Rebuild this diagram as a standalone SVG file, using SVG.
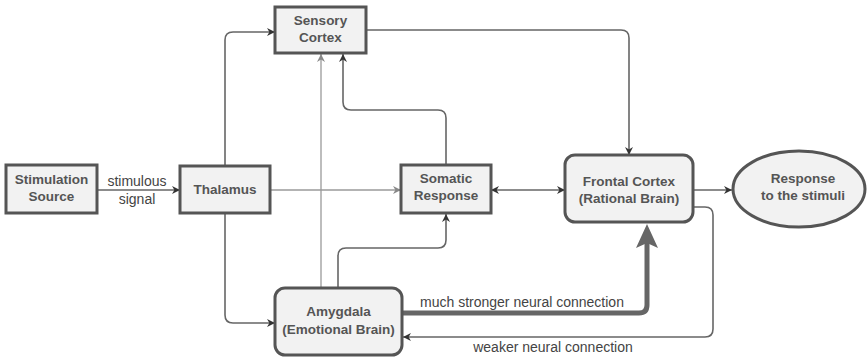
<svg xmlns="http://www.w3.org/2000/svg" width="868" height="357" viewBox="0 0 868 357">
<style>
.node{fill:#f2f2f2;stroke:#555;stroke-width:3}
.nt{font-family:"Liberation Sans",Arial,sans-serif;font-size:13.5px;font-weight:bold;fill:#555;text-anchor:middle}
.lbl{font-family:"Liberation Sans",Arial,sans-serif;font-size:14px;fill:#444;text-anchor:middle}
.c{fill:none;stroke:#666;stroke-width:1.6}
.cl{fill:none;stroke:#9a9a9a;stroke-width:1.3}
.thick{fill:none;stroke:#666;stroke-width:5}
</style>
<defs>
<marker id="a" viewBox="0 0 10 10" refX="10" refY="5" markerWidth="9" markerHeight="8" markerUnits="userSpaceOnUse" orient="auto-start-reverse">
<path d="M0,0 L10,5 L0,10 L3,5 Z" fill="#333"/>
</marker>
<marker id="al" viewBox="0 0 10 10" refX="10" refY="5" markerWidth="9" markerHeight="8" markerUnits="userSpaceOnUse" orient="auto">
<path d="M0,0 L10,5 L0,10 L3,5 Z" fill="#888"/>
</marker>
</defs>
<g id="connectors">
<path class="c" d="M97,190 H180" marker-end="url(#a)"/>
<path class="c" d="M225,166 V40 Q225,32 233,32 H275" marker-end="url(#a)"/>
<path class="c" d="M225,213 V315 Q225,323 233,323 H275" marker-end="url(#a)"/>
<path class="cl" d="M270,190 H401" marker-end="url(#al)"/>
<path class="cl" d="M321,288 V54" marker-end="url(#al)"/>
<path class="c" d="M446,165 V118 Q446,110 438,110 H351 Q343,110 343,102 V54" marker-end="url(#a)"/>
<path class="c" d="M338,288 V256 Q338,248 346,248 H438 Q446,248 446,240 V214" marker-end="url(#a)"/>
<path class="c" d="M366,30 H621 Q629,30 629,38 V155" marker-end="url(#a)"/>
<path class="c" d="M491,190 H565" marker-start="url(#a)" marker-end="url(#a)"/>
<path class="c" d="M693,190 H732" marker-end="url(#a)"/>
<path class="c" d="M693,207 H705 Q713,207 713,215 V329 Q713,337 705,337 H403" marker-end="url(#a)"/>
<path class="thick" d="M402,313 H639 Q647,313 647,305 V240"/>
<path d="M647,224 L658,248 L647,243 L636,248 Z" fill="#666"/>
<text class="lbl" x="137" y="186">stimulous</text>
<text class="lbl" x="137" y="204">signal</text>
<text class="lbl" x="522" y="307">much stronger neural connection</text>
<text class="lbl" x="553" y="352">weaker neural connection</text>
</g>
<g id="stimulation">
<rect class="node" x="6" y="165" width="91" height="48"/>
<text class="nt" x="51.5" y="184">Stimulation</text>
<text class="nt" x="51.5" y="201">Source</text>
</g>
<g id="thalamus">
<rect class="node" x="180" y="166" width="90" height="47"/>
<text class="nt" x="225" y="194">Thalamus</text>
</g>
<g id="sensory">
<rect class="node" x="275" y="7" width="91" height="46"/>
<text class="nt" x="320.5" y="25">Sensory</text>
<text class="nt" x="320.5" y="42">Cortex</text>
</g>
<g id="somatic">
<rect class="node" x="401" y="165" width="90" height="48"/>
<text class="nt" x="446" y="183">Somatic</text>
<text class="nt" x="446" y="200">Response</text>
</g>
<g id="frontal">
<rect class="node" x="565" y="155" width="128" height="67" rx="10"/>
<text class="nt" x="629" y="186">Frontal Cortex</text>
<text class="nt" x="629" y="203">(Rational Brain)</text>
</g>
<g id="response">
<ellipse class="node" cx="799" cy="189" rx="66" ry="38"/>
<text class="nt" x="803" y="183">Response</text>
<text class="nt" x="803" y="200">to the stimuli</text>
</g>
<g id="amygdala">
<rect class="node" x="275" y="288" width="127" height="67" rx="10"/>
<text class="nt" x="338.5" y="316">Amygdala</text>
<text class="nt" x="338.5" y="334">(Emotional Brain)</text>
</g>
</svg>
